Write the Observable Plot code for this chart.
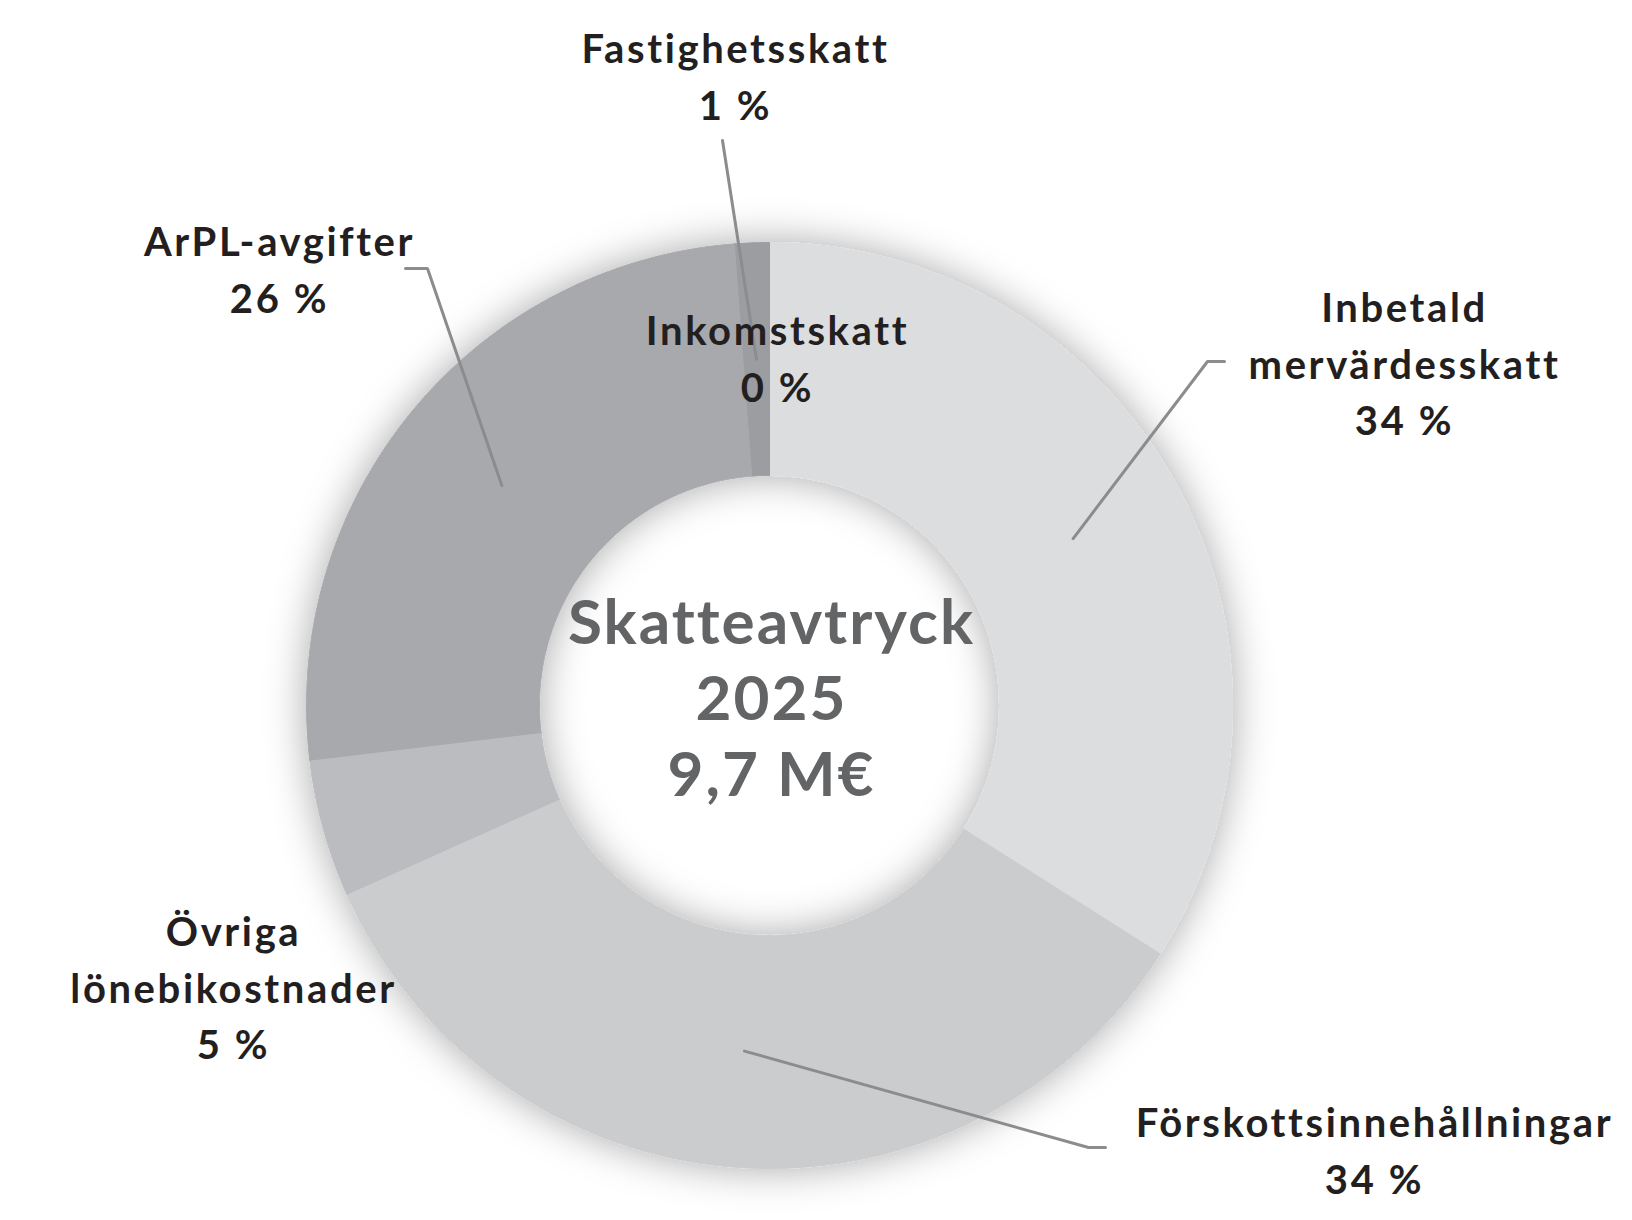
<!DOCTYPE html>
<html>
<head>
<meta charset="utf-8">
<script src="https://cdn.jsdelivr.net/npm/d3@7"></script>
<script src="https://cdn.jsdelivr.net/npm/@observablehq/plot@0.6"></script>
<style>
  html, body { margin: 0; padding: 0; background: #ffffff; }
  #chart svg { display: block; }
</style>
</head>
<body>
<div id="chart"></div>
<script>
// ---- data ----
const categories = ["Inbetald mervärdesskatt", "Förskottsinnehållningar", "Övriga lönebikostnader", "ArPL-avgifter", "Fastighetsskatt", "Inkomstskatt"];
const shares = [34.0, 34.3, 4.8, 25.7, 1.2, 0.0];
const percentLabels = ["34 %", "34 %", "5 %", "26 %", "1 %", "0 %"];
const labelNames = ["Inbetald\nmervärdesskatt", "Förskottsinnehållningar", "Övriga\nlönebikostnader", "ArPL-avgifter", "Fastighetsskatt", "Inkomstskatt"];
const centerLines = ["Skatteavtryck", "2025", "9,7 M€"];

// ---- styles ----
const sliceColors = ["#dcdddf", "#cbccce", "#bbbcbf", "#a8a9ac", "#9c9da0", "#9c9da0"];

// ---- layout (pixels) ----
const W = 1632, H = 1220;
const cx = 769, cy = 705, R = 463, R0 = 230;
const labelPos = [
  {x: 1404, y: 360, elbow: [[1207, 361], [1224, 361]]},
  {x: 1374, y: 1147, elbow: [[1088, 1147], [1105, 1147]]},
  {x: 233, y: 984, elbow: null},
  {x: 279, y: 266, elbow: [[427, 268], [405, 268]]},
  {x: 735, y: 73, elbow: [[722, 140]]},
  {x: 777, y: 355, elbow: null}
];

// ---- geometry from data ----
const arcs = d3.pie().sort(null).value(d => d)(shares);
const arcGen = d3.arc().innerRadius(R0).outerRadius(R);
const ring = [];
arcs.forEach((p, i) => {
  const span = p.endAngle - p.startAngle;
  if (span <= 0) return;
  const n = Math.max(2, Math.ceil(span / 0.004));
  for (let k = 0; k <= n; k++) {
    const a = p.startAngle + span * k / n;
    ring.push({name: categories[i], color: sliceColors[i], x: cx + R * Math.sin(a), y: cy - R * Math.cos(a)});
  }
  for (let k = n; k >= 0; k--) {
    const a = p.startAngle + span * k / n;
    ring.push({name: categories[i], color: sliceColors[i], x: cx + R0 * Math.sin(a), y: cy - R0 * Math.cos(a)});
  }
});

const leaders = [];
arcs.forEach((p, i) => {
  const L = labelPos[i];
  if (!L.elbow || p.endAngle - p.startAngle <= 0) return;
  const [dx, dy] = arcGen.centroid(p);
  leaders.push({name: categories[i], x: cx + dx, y: cy + dy});
  L.elbow.forEach(([ex, ey]) => leaders.push({name: categories[i], x: ex, y: ey}));
});

const labels = categories.map((c, i) => ({
  x: labelPos[i].x, y: labelPos[i].y,
  text: labelNames[i] + "\n" + percentLabels[i]
}));
const center = [{x: 771, y: 695, text: centerLines.join("\n")}];

const chart = Plot.plot({
  width: W,
  height: H,
  margin: 0,
  x: {domain: [0, W], range: [0, W], axis: null},
  y: {domain: [0, H], range: [0, H], axis: null},
  color: {type: "identity"},
  style: {background: "#ffffff"},
  marks: [
    Plot.line(ring, {x: "x", y: "y", z: "name", fill: "color", stroke: "color", strokeWidth: 1}),
    Plot.line(leaders, {x: "x", y: "y", z: "name", stroke: "#8b8c8e", strokeWidth: 3, strokeLinejoin: "miter"}),
    Plot.text(labels, {x: "x", y: "y", text: "text", fontSize: 40, fontWeight: 700, fontFamily: "Lato", fill: "#231f20", lineHeight: 1.42, lineAnchor: "middle", textAnchor: "middle"}),
    Plot.text(center, {x: "x", y: "y", text: "text", fontSize: 62, fontWeight: 700, fontFamily: "Lato", fill: "#636466", lineHeight: 1.23, lineAnchor: "middle", textAnchor: "middle"})
  ]
});

// soft glow around the ring
const svg = d3.select(chart);
const defs = svg.insert("defs", ":first-child");
const f = defs.append("filter").attr("id", "ringGlow")
  .attr("x", "-20%").attr("y", "-20%").attr("width", "140%").attr("height", "140%");
f.append("feDropShadow").attr("dx", 0).attr("dy", 0).attr("stdDeviation", 20)
  .attr("flood-color", "#000000").attr("flood-opacity", 0.34);
const lineGroups = chart.querySelectorAll('g[aria-label="line"]');
if (lineGroups.length) d3.select(lineGroups[0]).attr("filter", "url(#ringGlow)");

// wider letter spacing to approach the geometric display face
const textGroups = chart.querySelectorAll('g[aria-label="text"]');
if (textGroups[0]) textGroups[0].setAttribute("letter-spacing", "2.6");
if (textGroups[1]) textGroups[1].setAttribute("letter-spacing", "2");

document.getElementById("chart").appendChild(chart);
</script>
</body>
</html>
